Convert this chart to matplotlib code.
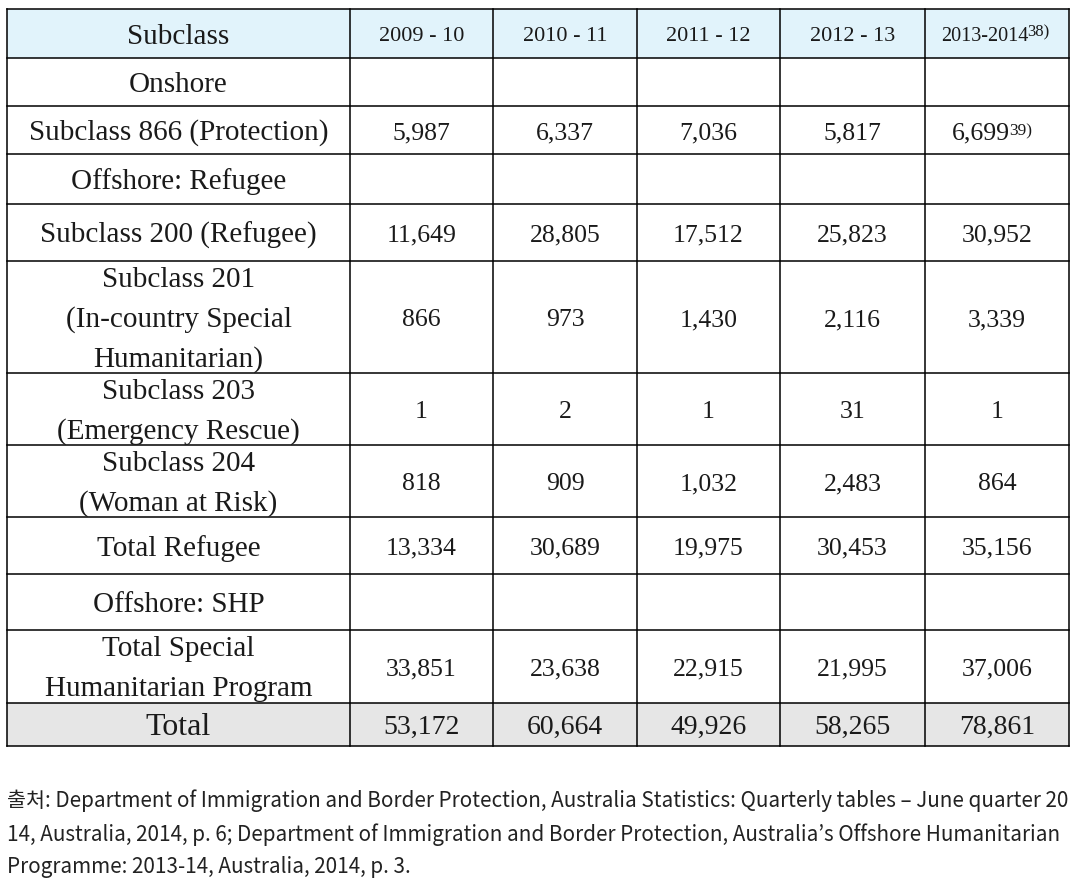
import matplotlib
matplotlib.use("Agg")
import matplotlib.pyplot as plt
from matplotlib.patches import Rectangle

# ---------------- data ----------------
headers = ["Subclass", "2009 - 10", "2010 - 11", "2011 - 12", "2012 - 13", "2013-2014"]
header_note = "38)"
row_labels = [
    "Onshore",
    "Subclass 866 (Protection)",
    "Offshore: Refugee",
    "Subclass 200 (Refugee)",
    "Subclass 201\n(In-country Special\nHumanitarian)",
    "Subclass 203\n(Emergency Rescue)",
    "Subclass 204\n(Woman at Risk)",
    "Total Refugee",
    "Offshore: SHP",
    "Total Special\nHumanitarian Program",
    "Total",
]
v2009_10 = ["", "5,987", "", "11,649", "866", "1", "818", "13,334", "", "33,851", "53,172"]
v2010_11 = ["", "6,337", "", "28,805", "973", "2", "909", "30,689", "", "23,638", "60,664"]
v2011_12 = ["", "7,036", "", "17,512", "1,430", "1", "1,032", "19,975", "", "22,915", "49,926"]
v2012_13 = ["", "5,817", "", "25,823", "2,116", "31", "2,483", "30,453", "", "21,995", "58,265"]
v2013_14 = ["", "6,699", "", "30,952", "3,339", "1", "864", "35,156", "", "37,006", "78,861"]
value_notes = {(1, 4): "39)"}
source_lines = [
    "출처: Department of Immigration and Border Protection, Australia Statistics: Quarterly tables – June quarter 20",
    "14, Australia, 2014, p. 6; Department of Immigration and Border Protection, Australia’s Offshore Humanitarian",
    "Programme: 2013-14, Australia, 2014, p. 3.",
]

columns = [v2009_10, v2010_11, v2011_12, v2012_13, v2013_14]

# ---------------- layout ----------------
W, H = 1080, 895
col_x = [7, 350, 493, 637, 780, 925, 1069]
row_y = [10, 59, 107, 155, 205, 262, 374, 446, 518, 575, 631, 704, 747]
line_pitch = 40
serif = ["Liberation Serif", "DejaVu Serif"]
fs_label = 21
fs_num = 18.5
fs_head = 16
txt_col = "#1a1a1a"
DY = 2

fig = plt.figure(figsize=(W / 100, H / 100), dpi=100)
ax = fig.add_axes([0, 0, 1, 1])
ax.set_xlim(0, W)
ax.set_ylim(H, 0)
ax.axis("off")

# fills
ax.add_patch(Rectangle((col_x[0], row_y[0]), col_x[-1] - col_x[0], row_y[1] - row_y[0],
                       facecolor="#e1f3fb", edgecolor="none", zorder=0))
ax.add_patch(Rectangle((col_x[0], row_y[-2]), col_x[-1] - col_x[0], row_y[-1] - row_y[-2],
                       facecolor="#e6e6e6", edgecolor="none", zorder=0))

# grid lines
for y in row_y:
    ax.plot([col_x[0], col_x[-1]], [y, y], color="black", lw=1.1, zorder=2)
for x in col_x:
    ax.plot([x, x], [row_y[0], row_y[-1]], color="black", lw=1.1, zorder=2)


def cell_text(text, c, r, size, color=txt_col, dy=DY):
    xc = (col_x[c] + col_x[c + 1]) / 2
    y0, y1 = row_y[r], row_y[r + 1]
    lines = text.split("\n")
    n = len(lines)
    yc = (y0 + y1) / 2 + dy
    for i, ln in enumerate(lines):
        yy = yc + (i - (n - 1) / 2) * line_pitch
        ax.text(xc, yy, ln, ha="center", va="center", fontsize=size,
                family=serif, color=color, zorder=3)


# header
for c, h in enumerate(headers):
    if c == 0:
        cell_text(h, c, 0, fs_label)
    elif c == 5:
        xc = (col_x[c] + col_x[c + 1]) / 2
        yc = (row_y[0] + row_y[1]) / 2 + DY
        ax.text(xc + 31, yc, h, ha="right", va="center", fontsize=14.5, family=serif,
                color=txt_col, zorder=3)
        ax.text(xc + 30, yc - 4, header_note, ha="left", va="center", fontsize=12,
                family=serif, color=txt_col, zorder=3)
    else:
        cell_text(h, c, 0, fs_head)

# body
for r, lab in enumerate(row_labels):
    rr = r + 1
    is_total = (r == len(row_labels) - 1)
    lsize = 23 if is_total else fs_label
    nsize = 20 if is_total else fs_num
    cell_text(lab, 0, rr, lsize)
    for c, col in enumerate(columns):
        val = col[r]
        if not val:
            continue
        note = value_notes.get((r, c))
        if note:
            xc = (col_x[c + 1] + col_x[c + 2]) / 2
            yc = (row_y[rr] + row_y[rr + 1]) / 2 + DY
            ax.text(xc + 13, yc, val, ha="right", va="center", fontsize=nsize, family=serif,
                    color=txt_col, zorder=3)
            ax.text(xc + 12, yc - 2, note, ha="left", va="center", fontsize=12.5,
                    family=serif, color=txt_col, zorder=3)
        else:
            cell_text(val, c + 1, rr, nsize)

# source note
src_y = [801, 835, 867]
for y, ln in zip(src_y, source_lines):
    ax.text(7, y, ln, ha="left", va="center", fontsize=14.9,
            family=["Noto Sans CJK KR", "DejaVu Sans"], color="#222222")

fig.savefig("out.png", dpi=100)
